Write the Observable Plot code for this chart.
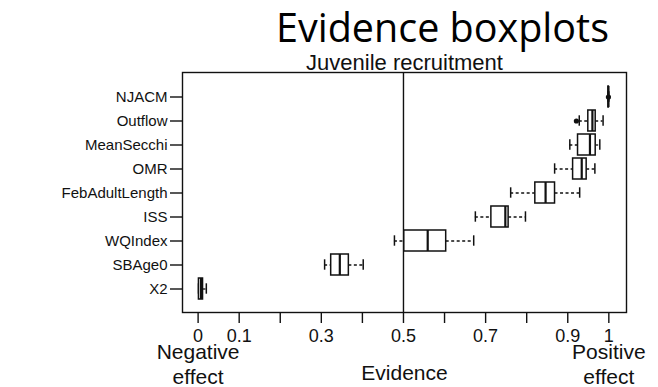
<!DOCTYPE html>
<html>
<head>
<meta charset="utf-8">
<script src="https://cdn.jsdelivr.net/npm/d3@7"></script>
<script src="https://cdn.jsdelivr.net/npm/@observablehq/plot@0.6"></script>
<style>
  html, body { margin: 0; padding: 0; background: #fff; }
  #chart svg { display: block; }
</style>
</head>
<body>
<div id="chart"></div>
<script>
// ---- data ----
const categories   = ["NJACM","Outflow","MeanSecchi","OMR","FebAdultLength","ISS","WQIndex","SBAge0","X2"];
const whiskerLow   = [0.998, 0.928, 0.905, 0.868, 0.761, 0.675, 0.478, 0.308, 0.001];
const q1           = [0.999, 0.950, 0.925, 0.913, 0.821, 0.714, 0.502, 0.324, 0.002];
const median       = [0.999, 0.960, 0.954, 0.934, 0.846, 0.748, 0.559, 0.345, 0.007];
const q3           = [1.000, 0.968, 0.968, 0.946, 0.869, 0.756, 0.604, 0.367, 0.012];
const whiskerHigh  = [1.000, 0.986, 0.978, 0.966, 0.929, 0.797, 0.671, 0.402, 0.020];
const outlierNames = ["NJACM", "Outflow"];
const outlierVals  = [0.999, 0.921];

const xTicks      = [0, 0.1, 0.2, 0.3, 0.4, 0.5, 0.6, 0.7, 0.8, 0.9, 1];
const xTickShown  = ["0", "0.1", "0.3", "0.5", "0.7", "0.9", "1"];
const neutralLine = [0.5];
const sideNames   = ["Negative\neffect", "Positive\neffect"];
const sideAt      = [0, 1];

const title    = "Evidence boxplots";
const subtitle = "Juvenile recruitment";
const xLabel   = "Evidence";

// ---- tables built from arrays ----
const rows = categories.map((c, i) => ({
  name: c, lo: whiskerLow[i], q1: q1[i], med: median[i], q3: q3[i], hi: whiskerHigh[i]
}));
const outliers = outlierNames.map((n, i) => ({name: n, v: outlierVals[i]}));
const sides = sideNames.map((t, i) => ({t, x: sideAt[i]}));

const ink = "#111";
const font = "'Liberation Sans', Arial, Helvetica, sans-serif";

const chart = Plot.plot({
  width: 658,
  height: 387,
  marginLeft: 182,
  marginRight: 32,
  marginTop: 72,
  marginBottom: 75,
  style: {fontFamily: font, color: ink, background: "#fff", overflow: "visible"},
  x: {domain: [-0.038, 1.043]},
  y: {type: "band", domain: categories, paddingInner: 0.14, paddingOuter: 0.42},
  marks: [
    Plot.frame({stroke: ink, strokeWidth: 1.4}),
    Plot.ruleX(neutralLine, {stroke: ink, strokeWidth: 1.4}),
    Plot.axisX({
      ticks: xTicks, tickSize: 11, tickPadding: 6, fontSize: 18, label: null,
      stroke: ink, strokeWidth: 1.4,
      tickFormat: d => { const s = String(+d.toFixed(2)); return xTickShown.includes(s) ? s : ""; }
    }),
    Plot.axisY({tickSize: 12, tickPadding: 3, fontSize: 15, label: null, stroke: ink, strokeWidth: 1.4}),
    // whiskers
    Plot.ruleY(rows, {y: "name", x1: "lo", x2: "q1", stroke: ink, strokeWidth: 1.3, strokeDasharray: "3,2.5"}),
    Plot.ruleY(rows, {y: "name", x1: "q3", x2: "hi", stroke: ink, strokeWidth: 1.3, strokeDasharray: "3,2.5"}),
    // staples
    Plot.tickX(rows, {x: "lo", y: "name", stroke: ink, strokeWidth: 1.5, insetTop: 5.3, insetBottom: 5.3}),
    Plot.tickX(rows, {x: "hi", y: "name", stroke: ink, strokeWidth: 1.5, insetTop: 5.3, insetBottom: 5.3}),
    // boxes
    Plot.barX(rows, {y: "name", x1: "q1", x2: "q3", fill: "white", stroke: ink, strokeWidth: 1.5}),
    // medians
    Plot.tickX(rows, {x: "med", y: "name", stroke: ink, strokeWidth: 2.2}),
    // outliers
    Plot.dot(outliers, {x: "v", y: "name", r: 2.6, fill: ink, stroke: "none"}),
    // texts
    Plot.text([title], {frameAnchor: "top", dx: 38, dy: -43.5, fontSize: 39.5, fill: "#000",
      fontFamily: "'Open Sans', 'Noto Sans', sans-serif", lineAnchor: "middle"}),
    Plot.text([subtitle], {frameAnchor: "top", dy: -10, fontSize: 22, fill: ink, lineAnchor: "middle"}),
    Plot.text([xLabel], {frameAnchor: "bottom", dy: 61, fontSize: 21, fill: ink, lineAnchor: "middle"}),
    Plot.text(sides, {x: "x", text: "t", frameAnchor: "bottom", dy: 29, fontSize: 21, fill: ink,
      lineAnchor: "top", lineHeight: 1.19})
  ]
});
document.getElementById("chart").appendChild(chart);
</script>
</body>
</html>
